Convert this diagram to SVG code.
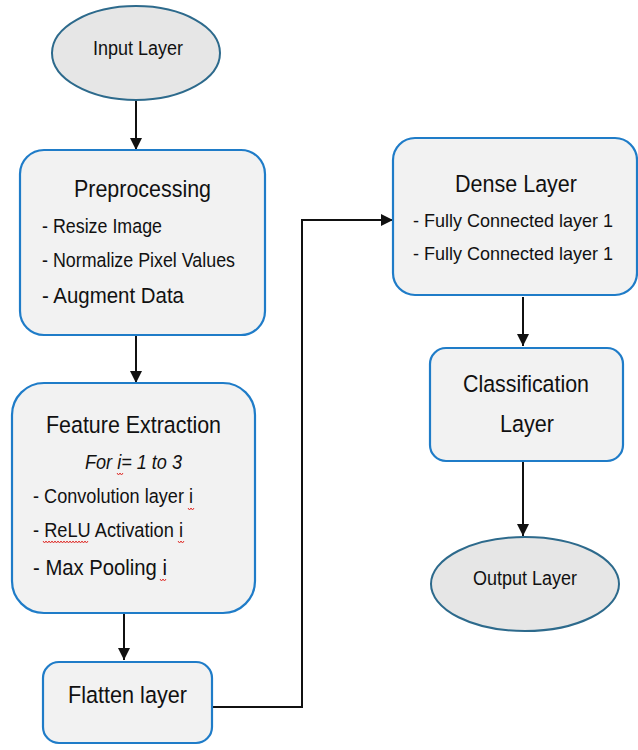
<svg xmlns="http://www.w3.org/2000/svg" width="638" height="750" viewBox="0 0 638 750">
  <defs>
    <marker id="arrow" markerUnits="userSpaceOnUse" markerWidth="12" markerHeight="14" refX="12" refY="6" orient="auto">
      <path d="M0,0 L12,6 L0,12 Z" fill="#111"/>
    </marker>
    <style>
      .box { fill: #f2f2f2; stroke: #1f7cc8; stroke-width: 2.2; }
      .term { fill: #e6e6e6; stroke: #2d6a8c; stroke-width: 2; }
      .edge { fill: none; stroke: #111; stroke-width: 2; marker-end: url(#arrow); }
      text { font-family: "Liberation Sans", Arial, sans-serif; fill: #111; }
      .h { font-size: 24.5px; }
      .b { font-size: 20.5px; }
      .bs { font-size: 19px; }
      .bl { font-size: 22px; }
      .t { font-size: 20px; }
      .sq { fill: none; stroke: #e0322e; stroke-width: 1; }
    </style>
  </defs>
  <rect width="638" height="750" fill="#fff"/>

  <g id="connectors">
    <path class="edge" d="M136,100 V150"/>
    <path class="edge" d="M136,335 V383"/>
    <path class="edge" d="M124,613 V660"/>
    <path class="edge" d="M212,707 H302 V220 H393"/>
    <path class="edge" d="M523,297 V346"/>
    <path class="edge" d="M523,461 V536"/>
  </g>

  <g id="input">
    <ellipse class="term" cx="136" cy="53" rx="84" ry="47"/>
    <text class="t" x="93" y="55" textLength="90" lengthAdjust="spacingAndGlyphs">Input Layer</text>
  </g>

  <g id="preprocessing">
    <rect class="box" x="20" y="150" width="245" height="185" rx="24"/>
    <text class="h" x="74" y="197" textLength="137" lengthAdjust="spacingAndGlyphs">Preprocessing</text>
    <text class="b" x="42" y="233" textLength="120" lengthAdjust="spacingAndGlyphs">- Resize Image</text>
    <text class="b" x="42" y="267" textLength="193" lengthAdjust="spacingAndGlyphs">- Normalize Pixel Values</text>
    <text class="bl" x="42" y="303" textLength="142" lengthAdjust="spacingAndGlyphs">- Augment Data</text>
  </g>

  <g id="feature-extraction">
    <rect class="box" x="12" y="383" width="243" height="230" rx="32"/>
    <text class="h" x="46" y="433" textLength="175" lengthAdjust="spacingAndGlyphs">Feature Extraction</text>
    <text class="b" x="85" y="469" font-style="italic" textLength="97" lengthAdjust="spacingAndGlyphs">For i= 1 to 3</text>
    <text class="b" x="33" y="503" textLength="160" lengthAdjust="spacingAndGlyphs">- Convolution layer i</text>
    <text class="b" x="33" y="537" textLength="150" lengthAdjust="spacingAndGlyphs">- ReLU Activation i</text>
    <text class="bl" x="33" y="575" textLength="134" lengthAdjust="spacingAndGlyphs">- Max Pooling i</text>
    <!-- spell-check squiggles -->
    <path class="sq" d="M117,473 l1.5,2 l1.5,-2 l1.5,2 l1.5,-2"/>
    <path class="sq" d="M188,508 l1.5,2 l1.5,-2 l1.5,2 l1.5,-2"/>
    <path class="sq" d="M43,541 l1.5,2 l1.5,-2 l1.5,2 l1.5,-2 l1.5,2 l1.5,-2 l1.5,2 l1.5,-2 l1.5,2 l1.5,-2 l1.5,2 l1.5,-2 l1.5,2 l1.5,-2 l1.5,2 l1.5,-2 l1.5,2 l1.5,-2 l1.5,2 l1.5,-2 l1.5,2 l1.5,-2 l1.5,2 l1.5,-2 l1.5,2 l1.5,-2 l1.5,2 l1.5,-2 l1.5,2 l1.5,-2"/>
    <path class="sq" d="M178,541 l1.5,2 l1.5,-2 l1.5,2 l1.5,-2"/>
    <path class="sq" d="M160,579 l1.5,2 l1.5,-2 l1.5,2 l1.5,-2"/>
  </g>

  <g id="flatten">
    <rect class="box" x="43" y="662" width="169" height="81" rx="16"/>
    <text class="h" x="68" y="703" textLength="119" lengthAdjust="spacingAndGlyphs">Flatten layer</text>
  </g>

  <g id="dense">
    <rect class="box" x="393" y="138" width="244" height="157" rx="22"/>
    <text class="h" x="455" y="192" textLength="122" lengthAdjust="spacingAndGlyphs">Dense Layer</text>
    <text class="bs" x="413" y="227" textLength="200" lengthAdjust="spacingAndGlyphs">- Fully Connected layer 1</text>
    <text class="bs" x="413" y="260" textLength="200" lengthAdjust="spacingAndGlyphs">- Fully Connected layer 1</text>
  </g>

  <g id="classification">
    <rect class="box" x="430" y="348" width="193" height="113" rx="16"/>
    <text class="h" x="463" y="392" textLength="126" lengthAdjust="spacingAndGlyphs">Classification</text>
    <text class="h" x="500" y="432" textLength="54" lengthAdjust="spacingAndGlyphs">Layer</text>
  </g>

  <g id="output">
    <ellipse class="term" cx="525" cy="584" rx="94" ry="47"/>
    <text class="t" x="473" y="585" textLength="104" lengthAdjust="spacingAndGlyphs">Output Layer</text>
  </g>
</svg>
